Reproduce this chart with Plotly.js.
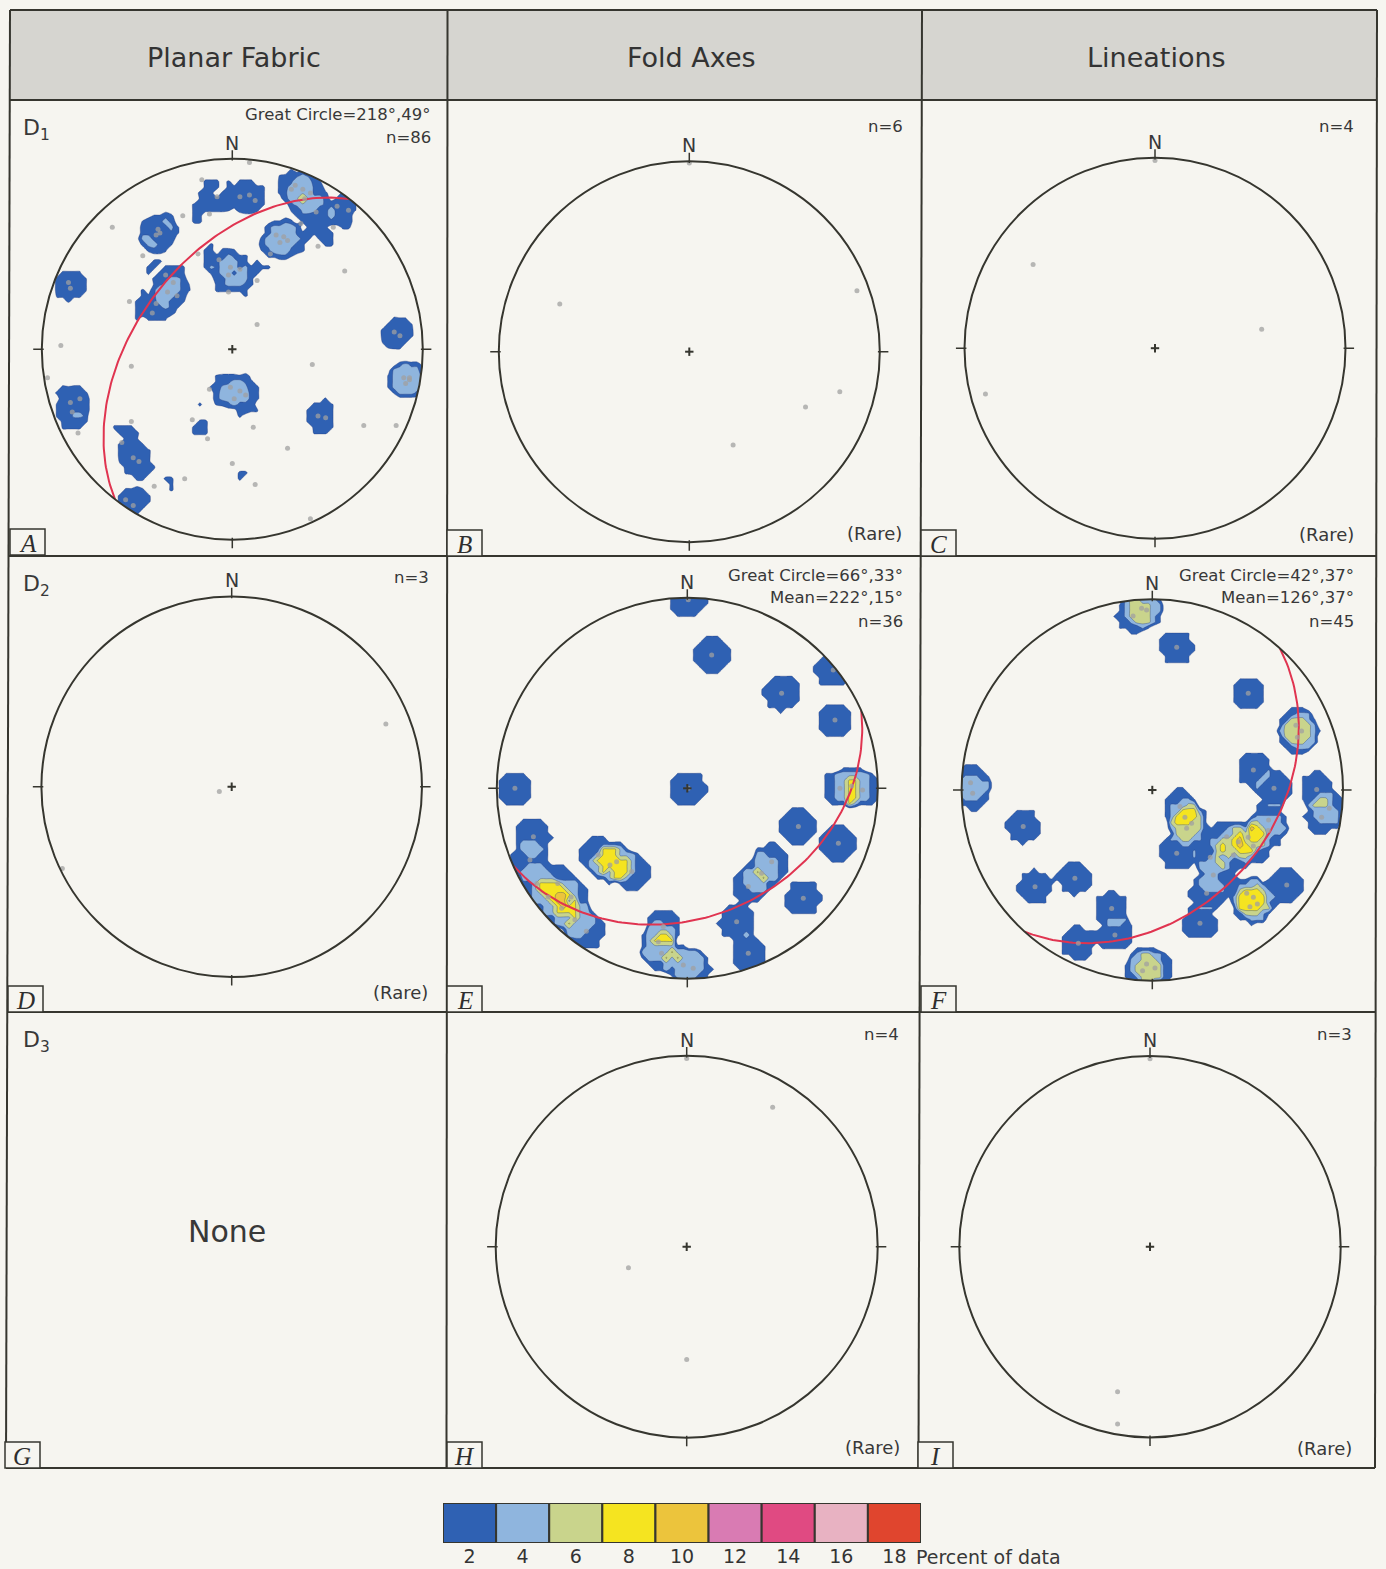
<!DOCTYPE html>
<html><head><meta charset="utf-8">
<script src="https://cdn.plot.ly/plotly-3.0.1.min.js"></script>
<style>html,body{margin:0;padding:0;background:#f6f5f0;}#chart{width:1386px;height:1569px;}</style>
</head><body><div id="chart"></div>
<script>
// ---------------- DATA ----------------
const columnTitles = ['Planar Fabric', 'Fold Axes', 'Lineations'];
const rowTitles = ['D<sub>1</sub>', 'D<sub>2</sub>', 'D<sub>3</sub>'];
const panelLetters = ['A','B','C','D','E','F','G','H','I'];

// projected pole / line positions on the equal-area net (unit radius, x = east, y = north)
const ptsA_x = [0.09,-0.16,-0.26,-0.12,-0.63,-0.47,-0.18,-0.54,-0.02,0.13,0.59,0.45,0.53,0.61,0.13,-0.90,-0.53,-0.97,0.42,-0.12,-0.80,-0.81,-0.53,-0.21,-0.58,-0.13,0.11,0.69,0.86,0.29,0.00,-0.25,-0.41,0.12,0.41,
  -0.39,-0.38,-0.40, -0.35,-0.31,-0.34,-0.29,-0.40,-0.42, -0.86,-0.85, -0.07,-0.01,-0.02,0.04,
  0.33,0.37,0.41,0.38,0.23,0.27,0.25,0.29,0.31,0.44,0.20,0.36,0.04,0.09,0.12,-0.08,0.55,
  0.85,0.88, 0.90,0.93,0.91,0.93, -0.01,0.04,0.07,0.01, 0.45,0.49, -0.85,-0.84, -0.52,-0.49, -0.56,-0.52];
const ptsA_y = [0.98,0.89,0.70,0.71,0.64,0.49,0.50,0.25,0.30,0.36,0.41,0.54,0.64,0.73,0.13,0.02,-0.09,-0.15,-0.08,-0.21,-0.26,-0.44,-0.38,-0.37,-0.49,-0.47,-0.41,-0.40,-0.40,-0.52,-0.60,-0.68,-0.72,-0.71,-0.89,
  0.63,0.61,0.60, 0.39,0.35,0.30,0.28,0.24,0.19, 0.35,0.32, 0.47,0.43,0.39,0.42,
  0.86,0.84,0.82,0.79,0.60,0.59,0.56,0.57,0.84,0.72,0.50,0.66,0.80,0.81,0.78,0.80,0.75,
  0.09,0.07, -0.15,-0.16,-0.18,-0.15, -0.20,-0.22,-0.24,-0.26, -0.35,-0.36, -0.28,-0.33, -0.57,-0.59, -0.79,-0.82];
const ptsB_x = [0.00,-0.68,0.88,0.79,0.61,0.23];
const ptsB_y = [0.99,0.25,0.32,-0.21,-0.29,-0.49];
const ptsC_x = [0.00,-0.64,0.56,-0.89];
const ptsC_y = [0.985,0.44,0.10,-0.24];
const ptsD_x = [-0.065,0.81,-0.89];
const ptsD_y = [-0.025,0.33,-0.43];
const ptsE_x = [0.005,0.128,0.495,0.766,0.775,-0.905,0.005,0.801,0.863,0.920,0.583,0.443,0.793,0.609,0.320,0.390,0.259,0.320,-0.152,-0.135,-0.021,0.031,-0.808,-0.826,
  -0.79,-0.73,-0.66,-0.59,-0.53,-0.68,-0.61, -0.467,-0.406,-0.371,-0.292,-0.126];
const ptsE_y = [0.99,0.700,0.499,0.621,0.359,0.0,0.0,0.0,0.012,-0.009,-0.201,-0.385,-0.289,-0.577,-0.516,-0.446,-0.700,-0.866,-0.805,-0.866,-0.927,-0.945,-0.254,-0.376,
  -0.50,-0.57,-0.63,-0.69,-0.75,-0.50,-0.57, -0.350,-0.402,-0.385,-0.437,-0.726];
const ptsF_x = [-0.056,-0.030,-0.101,0.128,0.503,0.753,0.783,0.761,-0.953,-0.942,-0.677,-0.615,-0.406,-0.213,-0.388,-0.196,-0.030,0.014,-0.051,0.530,0.638,0.862,0.888,0.928,0.145,0.171,0.206,0.180,0.128,0.304,0.390,0.451,0.503,0.530,0.608,0.425,0.705,0.495,0.530,0.551,0.512,0.250,0.320,0.610,0.285];
const ptsF_y = [0.953,0.944,0.913,0.748,0.507,0.339,0.309,0.276,0.038,-0.017,-0.192,-0.507,-0.463,-0.621,-0.804,-0.760,-0.913,-0.934,-0.948,0.105,0.009,0.003,-0.143,-0.096,-0.087,-0.143,-0.175,-0.201,-0.332,-0.353,-0.245,-0.271,-0.248,-0.294,-0.213,-0.341,-0.498,-0.542,-0.563,-0.598,-0.612,-0.699,-0.446,-0.157,-0.542];
const ptsH_x = [0.00,0.45,-0.305,0.00];
const ptsH_y = [0.985,0.73,-0.11,-0.59];
const ptsI_x = [0.00,-0.17,-0.17];
const ptsI_y = [0.985,-0.76,-0.93];

// great circles (strike, dip; right-hand rule)
const gcPanel  = ['A','E','F'];
const gcStrike = [218, 66, 42];
const gcDip    = [49, 33, 37];

// panel statistics text
const statsA = ['Great Circle=218°,49°','n=86'];
const statsB = ['n=6'];
const statsC = ['n=4'];
const statsD = ['n=3'];
const statsE = ['Great Circle=66°,33°','Mean=222°,15°','n=36'];
const statsF = ['Great Circle=42°,37°','Mean=126°,37°','n=45'];
const statsH = ['n=4'];
const statsI = ['n=3'];

// contour legend
const legendLevels = [2,4,6,8,10,12,14,16,18];
const legendColors = ['#2f61b3','#8fb5de','#c9d48c','#f5e420','#ecc43c','#d97bb3','#e04a82','#e8b2c2','#e0452e'];

// ---------------- LAYOUT HELPERS ----------------
const W = 1386, H = 1569;
const BG = '#f6f5f0', INK = '#36362f', TXT = '#383838';
const FONT = 'DejaVu Sans, sans-serif';
const px = v => v / W;
const py = v => 1 - v / H;
const RH = 1.08;

const nets = [
  {id:'A', cx:232.3, cy:349.2, R:190.5, xs:ptsA_x, ys:ptsA_y, contour:true,  stats:statsA, rare:false},
  {id:'B', cx:689.3, cy:351.7, R:190.5, xs:ptsB_x, ys:ptsB_y, contour:false, stats:statsB, rare:true},
  {id:'C', cx:1155,  cy:348.2, R:190.5, xs:ptsC_x, ys:ptsC_y, contour:false, stats:statsC, rare:true},
  {id:'D', cx:231.7, cy:786.7, R:190.3, xs:ptsD_x, ys:ptsD_y, contour:false, stats:statsD, rare:true},
  {id:'E', cx:687.3, cy:788.3, R:190.5, xs:ptsE_x, ys:ptsE_y, contour:true,  stats:statsE, rare:false},
  {id:'F', cx:1152.3,cy:790.0, R:190.7, xs:ptsF_x, ys:ptsF_y, contour:true,  stats:statsF, rare:false},
  {id:'H', cx:686.7, cy:1246.7,R:191.0, xs:ptsH_x, ys:ptsH_y, contour:false, stats:statsH, rare:true},
  {id:'I', cx:1150,  cy:1246.7,R:190.7, xs:ptsI_x, ys:ptsI_y, contour:false, stats:statsI, rare:true}
];
const statsRight = {A:433,B:905,C:1356,D:431,E:905,F:1356,H:901,I:1354};
const statsTop   = {A:114,B:127,C:127,D:577,E:575,F:575,H:1034,I:1034};
const rarePos    = {B:[904,533],C:[1356,534],D:[430,992],H:[902,1447],I:[1354,1448]};

function densityGrid(xs, ys, step, rad) {
  const g = [];
  for (let v = -1.1; v <= 1.1 + 1e-9; v += step) g.push(+v.toFixed(4));
  const n = xs.length;
  const z = g.map(gy => g.map(gx => {
    let c = 0;
    for (let i = 0; i < n; i++) { const dx = gx - xs[i], dy = gy - ys[i]; if (dx*dx + dy*dy <= rad*rad) c++; }
    return c * 100 / n;
  }));
  return {g, z};
}
function greatCircle(strike, dip) {
  const d = Math.PI/180, S = strike*d, D = dip*d;
  const sv = [Math.sin(S), Math.cos(S), 0];
  const dv = [Math.cos(D)*Math.sin(S+Math.PI/2), Math.cos(D)*Math.cos(S+Math.PI/2), Math.sin(D)];
  const x = [], y = [];
  for (let t = 0; t <= 180; t += 1.5) {
    const T = t*d, c = Math.cos(T), s = Math.sin(T);
    const e = c*sv[0] + s*dv[0], nn = c*sv[1] + s*dv[1], dn = c*sv[2] + s*dv[2];
    const p = Math.asin(Math.max(-1, Math.min(1, dn)));
    const tr = Math.atan2(e, nn);
    const r = Math.SQRT2 * Math.sin((Math.PI/2 - p)/2);
    x.push(r*Math.sin(tr)); y.push(r*Math.cos(tr));
  }
  return {x, y};
}
// step colour scale: band k (level 2k..2k+2) evaluated at k/9
const stepScale = [[0,'rgba(0,0,0,0)'],[1/18,'rgba(0,0,0,0)']];
legendColors.forEach((c,i) => { const k = i+1; stepScale.push([(2*k-1)/18, c]); stepScale.push([Math.min(1,(2*k+1)/18), c]); });

// circle path for masks
function maskPath() {
  let p = 'M-1.2,-1.2L1.2,-1.2L1.2,1.2L-1.2,1.2Z';
  const N = 180;
  for (let i = 0; i <= N; i++) {
    const a = -2*Math.PI*i/N;
    p += (i === 0 ? 'M' : 'L') + Math.cos(a).toFixed(5) + ',' + Math.sin(a).toFixed(5);
  }
  return p + 'Z';
}
const MASK = maskPath();

const traces = [], shapes = [], annotations = [];
const layout = {
  width: W, height: H, margin:{l:0,r:0,t:0,b:0},
  paper_bgcolor: BG, plot_bgcolor: 'rgba(0,0,0,0)',
  showlegend: false, bargap: 0, font:{family:FONT, color:TXT}
};

function ann(text, x, y, size, xanchor, extra) {
  annotations.push(Object.assign({text, x:px(x), y:py(y), xref:'paper', yref:'paper', showarrow:false,
    xanchor: xanchor || 'center', yanchor:'middle', font:{family:FONT, size, color:TXT}}, extra || {}));
}

// header background
shapes.push({type:'rect', xref:'paper', yref:'paper', x0:px(10), x1:px(1377), y0:py(100), y1:py(10),
  fillcolor:'#d6d5d0', line:{width:0}, layer:'below'});

nets.forEach((n, idx) => {
  const k = idx + 1, sx = k === 1 ? '' : String(k);
  const xa = 'x' + sx, ya = 'y' + sx;
  layout['xaxis' + sx] = {domain:[px(n.cx - RH*n.R), px(n.cx + RH*n.R)], range:[-RH, RH], visible:false, fixedrange:true, anchor:ya};
  layout['yaxis' + sx] = {domain:[py(n.cy + RH*n.R), py(n.cy - RH*n.R)], range:[-RH, RH], visible:false, fixedrange:true, anchor:xa};

  if (n.contour) {
    const dg = densityGrid(n.xs, n.ys, 0.03, 0.1);
    traces.push({type:'contour', x:dg.g, y:dg.g, z:dg.z, xaxis:xa, yaxis:ya,
      autocontour:false, contours:{start:2, end:18, size:2, coloring:'fill', showlines:true},
      colorscale:stepScale, showscale:false, hoverinfo:'skip',
      line:{width:0.7, color:'rgba(35,55,120,0.5)', smoothing:0.6}});
  }
  const gi = gcPanel.indexOf(n.id);
  if (gi >= 0) {
    const gc = greatCircle(gcStrike[gi], gcDip[gi]);
    traces.push({type:'scatter', mode:'lines', x:gc.x, y:gc.y, xaxis:xa, yaxis:ya,
      line:{color:'#e03450', width:2}, hoverinfo:'skip'});
  }
  traces.push({type:'scatter', mode:'markers', x:n.xs, y:n.ys, xaxis:xa, yaxis:ya,
    marker:{size:5, color:'rgba(160,160,160,0.75)'}, hoverinfo:'skip'});

  // mask outside primitive circle, then the primitive and its ticks
  shapes.push({type:'path', xref:xa, yref:ya, path:MASK, fillcolor:BG, line:{width:0}, layer:'above'});
  shapes.push({type:'circle', xref:xa, yref:ya, x0:-1, x1:1, y0:-1, y1:1, line:{color:INK, width:2}, layer:'above'});
  [[0,1],[1,0],[0,-1],[-1,0]].forEach(([a,b]) => {
    shapes.push({type:'line', xref:xa, yref:ya, x0:a*0.99, y0:b*0.99, x1:a*1.045, y1:b*1.045, line:{color:INK, width:1.5}, layer:'above'});
  });
  shapes.push({type:'line', xref:xa, yref:ya, x0:-0.022, x1:0.022, y0:0, y1:0, line:{color:INK, width:2}, layer:'above'});
  shapes.push({type:'line', xref:xa, yref:ya, x0:0, x1:0, y0:-0.022, y1:0.022, line:{color:INK, width:2}, layer:'above'});

  // N label and stats
  ann('N', n.cx, n.cy - n.R - 16, 19);
  n.stats.forEach((s, j) => ann(s, statsRight[n.id], statsTop[n.id] + j*23, 16.5, 'right'));
  if (n.rare) ann('(Rare)', rarePos[n.id][0], rarePos[n.id][1], 18, 'right');
});

// grid lines
const gl = (x0,y0,x1,y1) => shapes.push({type:'line', xref:'paper', yref:'paper', x0:px(x0), y0:py(y0), x1:px(x1), y1:py(y1), line:{color:INK, width:2}, layer:'above'});
gl(10,10,1377,10); gl(10,100,1377,100); gl(9,556,1377,556); gl(8,1012,1376,1012); gl(6,1468,1375,1468);
gl(10,10,6,1468); gl(1377,10,1375,1468); gl(447.5,10,446.5,1468); gl(922,10,918.5,1468);

// letter boxes
const boxes = [[10,529],[447,530],[921,530],[8,986],[447,986],[921,986],[5,1442],[447,1442],[918,1442]];
boxes.forEach((b, i) => {
  shapes.push({type:'rect', xref:'paper', yref:'paper', x0:px(b[0]), x1:px(b[0]+35), y0:py(b[1]+26), y1:py(b[1]),
    fillcolor:BG, line:{color:INK, width:1.5}, layer:'above'});
  ann('<i>' + panelLetters[i] + '</i>', b[0]+17.5, b[1]+14, 25, 'center', {font:{family:'Liberation Serif, serif', size:25, color:'#2e2e2e'}});
});

// column headers, row labels
const headX = [234, 691, 1156];
columnTitles.forEach((t, i) => ann(t, headX[i], 57, 27, 'center', {font:{family:FONT, size:27, color:'#333'}}));
const rowY = [129, 585, 1041];
rowTitles.forEach((t, i) => ann(t, 21, rowY[i], 22, 'left'));
ann('None', 227, 1231, 30);

// contour legend bar
layout.xaxis9 = {domain:[px(443), px(921)], type:'category', anchor:'y9', showgrid:false, zeroline:false, showline:false,
  ticks:'', fixedrange:true, tickfont:{family:FONT, size:19, color:'#333'}};
layout.yaxis9 = {domain:[py(1543), py(1503)], range:[0,1], visible:false, fixedrange:true, anchor:'x9'};
traces.push({type:'bar', x:legendLevels.map(String), y:legendLevels.map(() => 1), xaxis:'x9', yaxis:'y9',
  marker:{color:legendColors, line:{color:INK, width:2}}, cliponaxis:false, hoverinfo:'skip'});
ann('Percent of data', 914, 1557, 19, 'left');

layout.shapes = shapes;
layout.annotations = annotations;
Plotly.newPlot('chart', traces, layout, {staticPlot:true, displayModeBar:false});
</script>
</body></html>
